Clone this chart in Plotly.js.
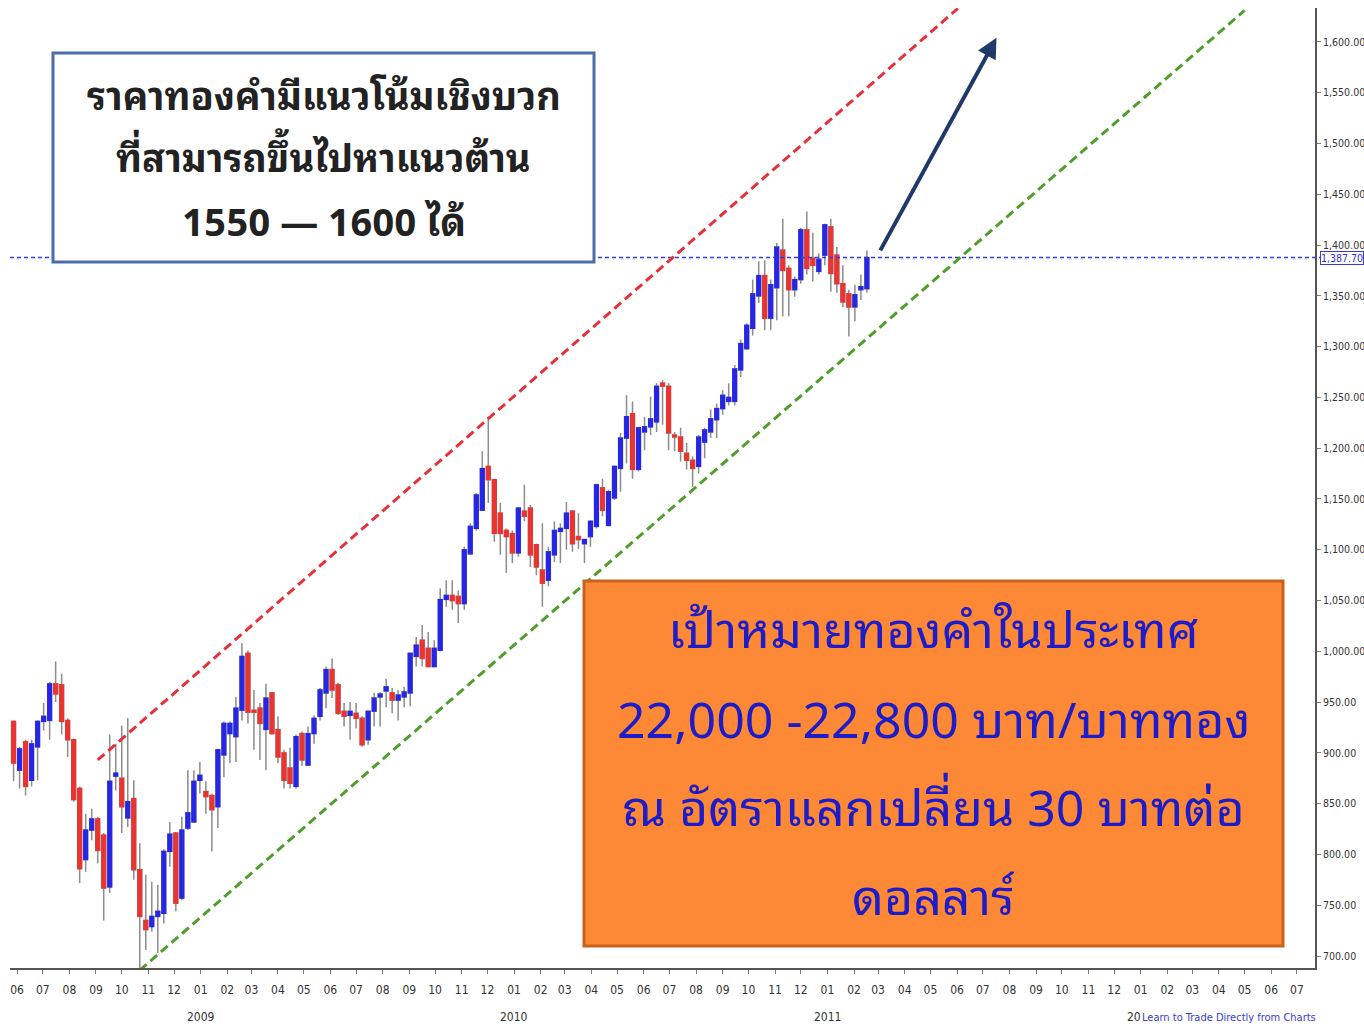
<!DOCTYPE html>
<html><head><meta charset="utf-8">
<script src="https://cdn.plot.ly/plotly-3.0.1.min.js"></script>
<style>html,body{margin:0;padding:0;background:#fff}</style>
</head><body>
<div id="chart" style="width:1364px;height:1028px"></div>
<script>
// weekly gold candles (USD/oz), first week starting 2008-05-28
const firstWeek = '2008-05-28';
const open = [931,883,911,873,906,931,932,968,967,932, 913,865,795,824,835,819,768,877,875,836, 855,785,735,729,739,742,803,821,757,826, 832,873,862,858,847,898,919,916,942,998, 942,944,923,959,923,900,885,867,919,888, 919,936,959,982,967,941,937,939,934,913, 941,955,961,959,952,955,959,995,1011,1003, 985,1001,1051,1055,1054,1047,1096,1121,1139,1182, 1169,1136,1119,1116,1097,1138,1141,1105,1080,1070, 1095,1118,1121,1138,1113,1106,1113,1123,1161,1124, 1151,1180,1210,1234,1179,1216,1221,1226,1264,1261, 1213,1211,1195,1188,1182,1206,1216,1228,1239,1246, 1246,1277,1298,1318,1350,1370,1328,1358,1395,1377, 1356,1366,1415,1387,1374,1390,1418,1390,1362,1352, 1339,1356,1357];
const high = [932,906,913,913,932,949,970,990,978,934, 914,867,840,845,837,821,918,909,927,934, 873,811,780,773,770,805,832,822,837,883, 883,891,872,860,904,931,931,955,1008,1001, 962,949,968,960,936,903,905,918,921,926, 937,964,985,993,969,949,950,949,936,942, 959,960,973,964,962,965,998,1014,1026,1019, 1011,1062,1070,1070,1060,1103,1126,1156,1197,1231, 1170,1146,1121,1119,1142,1164,1144,1106,1126,1103, 1128,1126,1147,1139,1136,1111,1129,1165,1170,1159, 1183,1215,1252,1246,1221,1231,1251,1264,1267,1264, 1216,1220,1205,1192,1213,1220,1238,1244,1257,1264, 1282,1307,1323,1366,1384,1385,1366,1402,1426,1380, 1369,1417,1433,1412,1392,1421,1426,1398,1380,1356, 1361,1371,1395];
const low = [872,865,858,867,873,922,913,950,918,896, 852,772,783,814,791,735,762,863,821,827, 775,686,706,724,703,732,788,744,755,824, 831,860,840,803,826,876,890,891,932,929, 903,893,883,918,890,865,865,865,887,887, 909,932,944,954,937,926,913,924,906,908, 926,926,945,939,932,945,946,985,985,985, 985,1000,1044,1041,1028,1041,1095,1119,1139,1146, 1108,1095,1077,1087,1093,1128,1083,1075,1044,1064, 1088,1087,1100,1098,1101,1087,1103,1121,1133,1123, 1149,1157,1185,1170,1177,1198,1213,1216,1223,1198, 1197,1187,1179,1162,1175,1190,1210,1210,1233,1242, 1242,1270,1297,1311,1343,1316,1316,1326,1330,1330, 1349,1362,1371,1364,1371,1380,1354,1353,1339,1310, 1325,1346,1353];
const close = [890,904,867,909,931,936,968,958,931,913, 854,786,824,835,804,767,872,880,847,852, 785,739,726,739,744,803,820,752,824,841, 872,878,857,844,903,929,929,944,995,940, 940,929,954,919,896,873,870,916,893,919, 934,962,982,962,939,936,941,934,908,941, 954,958,965,952,957,960,998,1006,993,985, 1003,1051,1055,1050,1047,1100,1123,1154,1180,1169, 1116,1116,1113,1097,1141,1133,1095,1083,1067,1098, 1119,1121,1136,1106,1110,1110,1128,1164,1139,1157, 1182,1210,1231,1179,1220,1221,1229,1261,1261,1215, 1211,1197,1188,1180,1211,1218,1229,1239,1252,1250, 1278,1303,1321,1352,1370,1328,1361,1398,1375,1356, 1366,1415,1377,1380,1386,1420,1372,1362,1344,1339, 1351,1359,1387.7];

const yTickValues = [700,750,800,850,900,950,1000,1050,1100,1150,1200,1250,1300,1350,1400,1450,1500,1550,1600];
const yearLabels = ['2009','2010','2011','2012'];
const yearDates = ['2009-01-01','2010-01-01','2011-01-01','2012-01-01'];
const lastPrice = 1387.70;
const lastPriceLabel = '1,387.70';
const upperChannel = {x: ['2008-09-03','2011-06-02'], y: [893,1633]};
const lowerChannel = {x: ['2008-10-22','2012-05-01'], y: [686,1631]};
const arrowTip = {x: '2011-07-17', y: 1604};
const noteLines = ['ราคาทองคำมีแนวโน้มเชิงบวก','ที่สามารถขึ้นไปหาแนวต้าน','1550 — 1600 ได้'];
const targetLines = ['เป้าหมายทองคำในประเทศ','22,000 -22,800 บาท/บาททอง','ณ อัตราแลกเปลี่ยน 30 บาทต่อ','ดอลลาร์'];
const watermark = 'Learn to Trade Directly from Charts';

// week dates
const weeks = [];
{
  const d0 = new Date(firstWeek + 'T12:00:00Z');
  for (let i = 0; i < open.length; i++) {
    const d = new Date(d0.getTime() + i * 7 * 86400000);
    weeks.push(d.toISOString().slice(0, 10));
  }
}
const bodyHigh = open.map((o, i) => Math.max(o, close[i]));
const bodyLow = open.map((o, i) => Math.min(o, close[i]));

const narrow = '"DejaVu Sans Condensed", "Liberation Sans Narrow", "Arial Narrow", sans-serif';
const thai = '"Noto Sans Thai Looped", "Noto Sans Thai", Garuda, Loma, Tahoma, "Noto Sans", sans-serif';

const traces = [
  {
    type: 'candlestick', x: weeks, open: open, high: high, low: low, close: close,
    increasing: {line: {color: '#8c8c8c', width: 1.5}, fillcolor: '#8c8c8c'},
    decreasing: {line: {color: '#8c8c8c', width: 1.5}, fillcolor: '#8c8c8c'},
    whiskerwidth: 0, hoverinfo: 'skip', showlegend: false
  },
  {
    type: 'candlestick', x: weeks, open: open, high: bodyHigh, low: bodyLow, close: close,
    increasing: {line: {color: '#2626e6', width: 1.2}, fillcolor: '#2626e6'},
    decreasing: {line: {color: '#ea3430', width: 1.2}, fillcolor: '#ea3430'},
    whiskerwidth: 0, showlegend: false
  }
];

function px2x(p) { return (p - 10) / 1305; }
function px2y(p) { return (968 - p) / 960; }

const shapes = [
  {type: 'line', xref: 'paper', yref: 'y', x0: 0, x1: 1.004, y0: lastPrice, y1: lastPrice,
   line: {color: '#3a3ad6', width: 1.6, dash: '4px,3px'}, layer: 'above'},
  {type: 'line', xref: 'x', yref: 'y', x0: upperChannel.x[0], y0: upperChannel.y[0], x1: upperChannel.x[1], y1: upperChannel.y[1],
   line: {color: '#e5323a', width: 3, dash: '9px,5px'}, layer: 'above'},
  {type: 'line', xref: 'x', yref: 'y', x0: lowerChannel.x[0], y0: lowerChannel.y[0], x1: lowerChannel.x[1], y1: lowerChannel.y[1],
   line: {color: '#4f9e2c', width: 3, dash: '9px,5px'}, layer: 'above'},
  {type: 'rect', xref: 'paper', yref: 'paper', x0: px2x(53), x1: px2x(594), y0: px2y(262), y1: px2y(53),
   fillcolor: '#ffffff', line: {color: '#4a6fa8', width: 3}, layer: 'above'},
  {type: 'rect', xref: 'paper', yref: 'paper', x0: px2x(584), x1: px2x(1283), y0: px2y(946), y1: px2y(581),
   fillcolor: '#fd8836', line: {color: '#c8621e', width: 3}, layer: 'above'}
];

const annotations = [];
const noteY = [92, 155, 218];
noteLines.forEach((t, i) => annotations.push({
  xref: 'paper', yref: 'paper', x: px2x(323.5), y: px2y(noteY[i]), text: '<b>' + t + '</b>', showarrow: false,
  xanchor: 'center', yanchor: 'middle', font: {family: thai, size: 38, color: '#222222'}
}));
const targetY = [625, 715, 803, 892];
targetLines.forEach((t, i) => annotations.push({
  xref: 'paper', yref: 'paper', x: px2x(933.5), y: px2y(targetY[i]), text: t, showarrow: false,
  xanchor: 'center', yanchor: 'middle', font: {family: thai, size: 50, color: '#1c1cc8'}
}));
yearLabels.forEach((t, i) => annotations.push({
  xref: 'x', yref: 'paper', x: yearDates[i], y: px2y(1017), text: t, showarrow: false,
  xanchor: 'center', yanchor: 'middle', font: {family: narrow, size: 12, color: '#333'}
}));
annotations.push({
  xref: 'paper', yref: 'paper', x: px2x(1141), y: px2y(1018), text: watermark, showarrow: false,
  xanchor: 'left', yanchor: 'middle', bgcolor: '#ffffff', borderpad: 0,
  font: {family: narrow, size: 11, color: '#3a3ad0'}
});
annotations.push({
  xref: 'paper', yref: 'y', x: px2x(1320), y: lastPrice, text: lastPriceLabel, showarrow: false,
  xanchor: 'left', yanchor: 'middle', bgcolor: '#ffffff', bordercolor: '#3a3ad6', borderwidth: 1, borderpad: 0,
  font: {family: narrow, size: 10.5, color: '#2f2fd0'}
});
annotations.push({
  xref: 'x', yref: 'y', x: arrowTip.x, y: arrowTip.y, ax: -117, ay: 214, text: '',
  showarrow: true, arrowhead: 2, arrowsize: 1, arrowwidth: 4, arrowcolor: '#1f3a68', standoff: 0
});

const layout = {
  width: 1364, height: 1028,
  margin: {l: 10, r: 49, t: 8, b: 60},
  paper_bgcolor: '#ffffff', plot_bgcolor: '#ffffff',
  showlegend: false,
  boxgap: 0.2, boxgroupgap: 0.2,
  xaxis: {
    type: 'date', range: ['2008-05-23 20:00', '2012-07-22'],
    tick0: '2008-06-01', dtick: 'M1', tickformat: '%m',
    ticks: 'outside', ticklen: 4, tickcolor: '#777', tickwidth: 1,
    showline: true, linecolor: '#555', linewidth: 2,
    showgrid: false, zeroline: false, ticklabelstandoff: 6,
    rangeslider: {visible: false},
    tickfont: {family: narrow, size: 12, color: '#333'}
  },
  yaxis: {
    side: 'right', range: [688.2, 1633.4],
    tickmode: 'array', tickvals: yTickValues, tickformat: ',.2f',
    ticks: 'outside', ticklen: 4, tickcolor: '#777',
    showline: true, linecolor: '#555', linewidth: 2,
    showgrid: false, zeroline: false,
    tickfont: {family: narrow, size: 10.5, color: '#333'}
  },
  shapes: shapes,
  annotations: annotations
};

Plotly.newPlot('chart', traces, layout, {displayModeBar: false, staticPlot: true});
</script>
</body></html>
